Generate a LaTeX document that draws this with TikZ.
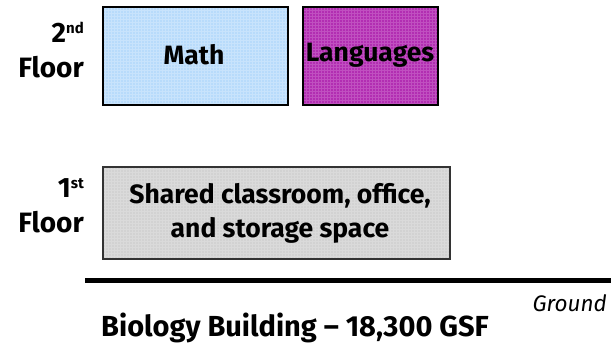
\documentclass[tikz,border=0pt]{standalone}
\usepackage{fontspec}
\setmainfont{Fira Sans}
\usetikzlibrary{patterns}
\definecolor{mathblue}{HTML}{B8DBFB}
\definecolor{mathgrid}{HTML}{C8E3FC}
\definecolor{langpurple}{HTML}{B22EB2}
\definecolor{langgrid}{HTML}{C050C0}
\definecolor{sharedgray}{HTML}{D2D2D2}
\definecolor{sharedgrid}{HTML}{DADADA}
\begin{document}
\begin{tikzpicture}[x=1pt,y=-1pt,
  room/.style={draw=black,line width=2pt},
  lbl/.style={font=\bfseries\fontsize{28}{30}\selectfont,anchor=east,inner sep=0pt},
  roomtext/.style={font=\bfseries\fontsize{26.5}{34}\selectfont,align=center,inner sep=0pt}]
\useasboundingbox (0,0) rectangle (611,346);
% rooms
\fill[mathblue] (103,7) rectangle (288,105);
\fill[pattern=grid,pattern color=mathgrid] (103,7) rectangle (288,105);
\draw[room] (103,7) rectangle (288,105);
\node[roomtext] (math) at (194,55) {Math};
\fill[langpurple] (303,7) rectangle (438,105);
\fill[pattern=grid,pattern color=langgrid] (303,7) rectangle (438,105);
\draw[room] (303,7) rectangle (438,105);
\node[roomtext] (lang) at (370,55) {Languages};
\fill[sharedgray] (103,167) rectangle (450,259);
\fill[pattern=grid,pattern color=sharedgrid] (103,167) rectangle (450,259);
\draw[draw=black!80,line width=1.5pt] (103,167) rectangle (450,259);
\node[roomtext] (shared) at (280,213) {Shared classroom, office,\\and storage space};
% labels
\node[lbl] (second) at (84,32) {2\raisebox{0.6ex}{\fontsize{15}{15}\selectfont nd}};
\node[lbl] (floor2) at (84,67) {Floor};
\node[lbl] (first) at (84,188) {1\raisebox{0.6ex}{\fontsize{15}{15}\selectfont st}};
\node[lbl] (floor1) at (84,222) {Floor};
% ground
\coordinate (gl) at (85,280);
\coordinate (gr) at (611,280);
\draw[line width=5pt] (gl) -- (gr);
\node[font=\itshape\fontsize{22.5}{24}\selectfont,anchor=east,inner sep=0pt] (ground) at (607,303) {Ground};
\node[font=\bfseries\fontsize{29}{32}\selectfont,inner sep=0pt] (title) at (295,328) {Biology Building -- 18,300 GSF};
\end{tikzpicture}
\end{document}
